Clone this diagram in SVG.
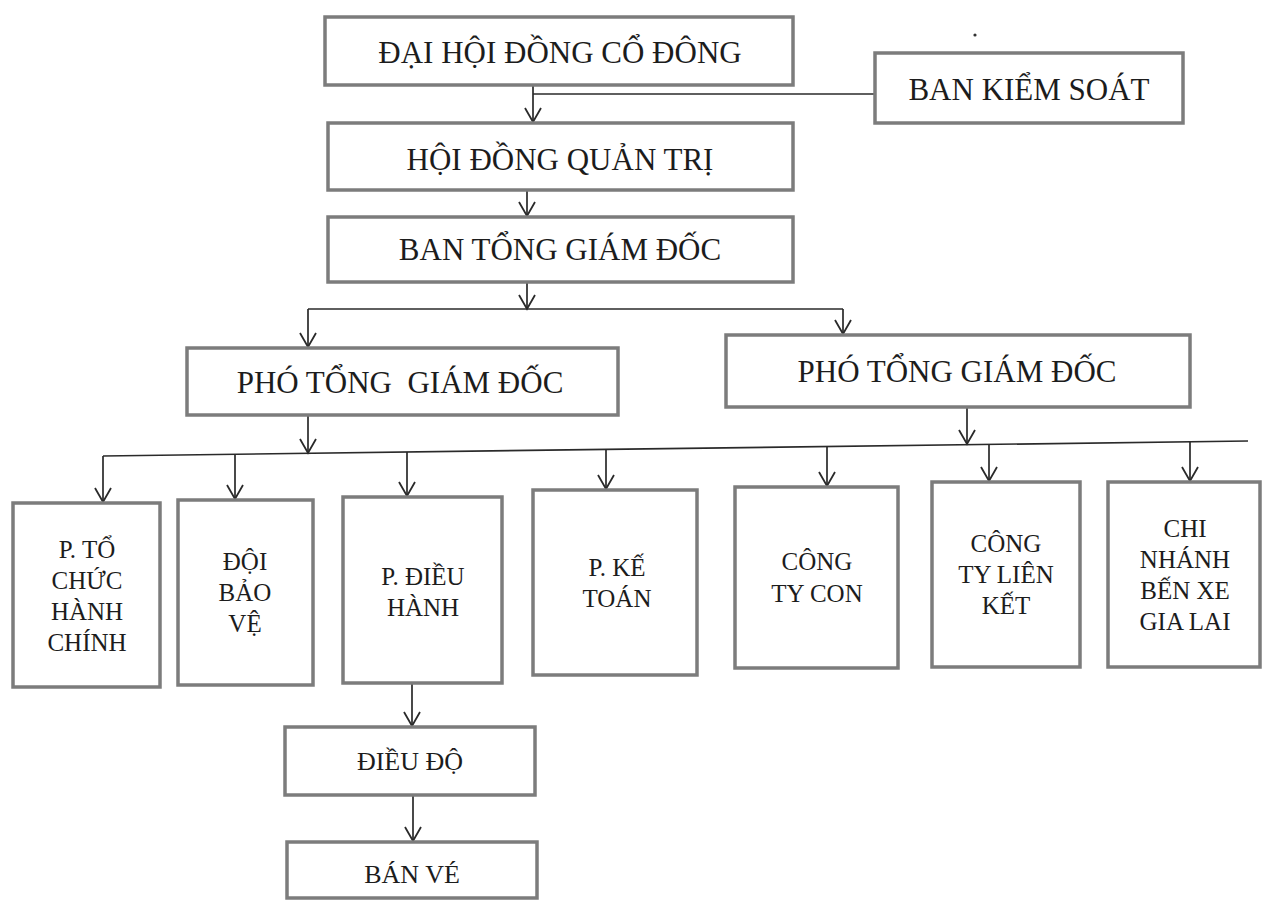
<svg xmlns="http://www.w3.org/2000/svg" width="1263" height="906" viewBox="0 0 1263 906">
<style>
.box{fill:#ffffff;stroke:#7c7c7c;stroke-width:3.5}
.t{font-family:"Liberation Serif","Times New Roman",serif;fill:#1c1c1c;text-anchor:middle}
.big{font-size:31px}
.sm{font-size:25px}
.md{font-size:26px}
.ln{fill:none;stroke:#2a2a2a;stroke-width:1.7}
.ar{fill:none;stroke:#2a2a2a;stroke-width:1.7;marker-end:url(#v)}
</style>
<defs>
<marker id="v" viewBox="0 0 18 20" refX="15" refY="10" markerWidth="18" markerHeight="20" markerUnits="userSpaceOnUse" orient="auto">
<path d="M1,2 L15,10 L1,18" fill="none" stroke="#2a2a2a" stroke-width="1.8"/>
</marker>
</defs>
<rect width="1263" height="906" fill="#ffffff"/>
<circle cx="975" cy="35" r="1.6" fill="#333"/>

<g id="connectors">
<path class="ar" d="M533,85 V122"/>
<path class="ln" d="M533,94 H875"/>
<path class="ar" d="M527,190 V216"/>
<path class="ar" d="M527,282 V309"/>
<path class="ln" d="M308,309 H843"/>
<path class="ar" d="M308,309 V347"/>
<path class="ar" d="M843,309 V334"/>
<path class="ar" d="M308,415 V453"/>
<path class="ar" d="M967,407 V444"/>
<path class="ln" d="M103,456 L1248,441"/>
<path class="ar" d="M103,456 V502"/>
<path class="ar" d="M235,454 V499"/>
<path class="ar" d="M407,452 V496"/>
<path class="ar" d="M606,449 V489"/>
<path class="ar" d="M827,446 V486"/>
<path class="ar" d="M989,444 V481"/>
<path class="ar" d="M1190,442 V481"/>
<path class="ar" d="M412,683 V726"/>
<path class="ar" d="M413,795 V841"/>
</g>

<g id="dhdcd"><rect class="box" x="325" y="17" width="468" height="68"/><text class="t big" x="560" y="63">ĐẠI HỘI ĐỒNG CỔ ĐÔNG</text></g>
<g id="bks"><rect class="box" x="875" y="53" width="308" height="70"/><text class="t big" x="1029" y="100">BAN KIỂM SOÁT</text></g>
<g id="hdqt"><rect class="box" x="328" y="123" width="465" height="67"/><text class="t big" x="560" y="170">HỘI ĐỒNG QUẢN TRỊ</text></g>
<g id="btgd"><rect class="box" x="328" y="217" width="465" height="65"/><text class="t big" x="560" y="260">BAN TỔNG GIÁM ĐỐC</text></g>
<g id="ptgd1"><rect class="box" x="187" y="348" width="431" height="67"/><text class="t big" x="400" y="393" xml:space="preserve">PHÓ TỔNG  GIÁM ĐỐC</text></g>
<g id="ptgd2"><rect class="box" x="726" y="335" width="464" height="72"/><text class="t big" x="957" y="382">PHÓ TỔNG GIÁM ĐỐC</text></g>

<g id="ptchc"><rect class="box" x="13" y="503" width="147" height="184"/>
<text class="t sm" x="87"><tspan x="87" y="558">P. TỔ</tspan><tspan x="87" y="589">CHỨC</tspan><tspan x="87" y="620">HÀNH</tspan><tspan x="87" y="651">CHÍNH</tspan></text></g>
<g id="dbv"><rect class="box" x="178" y="500" width="135" height="185"/>
<text class="t sm" x="245"><tspan x="245" y="570">ĐỘI</tspan><tspan x="245" y="601">BẢO</tspan><tspan x="245" y="632">VỆ</tspan></text></g>
<g id="pdh"><rect class="box" x="343" y="497" width="159" height="186"/>
<text class="t sm" x="423"><tspan x="423" y="585">P. ĐIỀU</tspan><tspan x="423" y="616">HÀNH</tspan></text></g>
<g id="pkt"><rect class="box" x="533" y="490" width="164" height="185"/>
<text class="t sm" x="617"><tspan x="617" y="576">P. KẾ</tspan><tspan x="617" y="607">TOÁN</tspan></text></g>
<g id="ctc"><rect class="box" x="735" y="487" width="163" height="181"/>
<text class="t sm" x="817"><tspan x="817" y="570">CÔNG</tspan><tspan x="817" y="602">TY CON</tspan></text></g>
<g id="ctlk"><rect class="box" x="932" y="482" width="148" height="185"/>
<text class="t sm" x="1006"><tspan x="1006" y="552">CÔNG</tspan><tspan x="1006" y="583">TY LIÊN</tspan><tspan x="1006" y="614">KẾT</tspan></text></g>
<g id="cnbx"><rect class="box" x="1108" y="482" width="152" height="185"/>
<text class="t sm" x="1185"><tspan x="1185" y="537">CHI</tspan><tspan x="1185" y="568">NHÁNH</tspan><tspan x="1185" y="599">BẾN XE</tspan><tspan x="1185" y="630">GIA LAI</tspan></text></g>

<g id="dieudo"><rect class="box" x="285" y="727" width="250" height="68"/><text class="t md" x="410" y="770">ĐIỀU ĐỘ</text></g>
<g id="banve"><rect class="box" x="287" y="842" width="250" height="56"/><text class="t md" x="412" y="883">BÁN VÉ</text></g>
</svg>
